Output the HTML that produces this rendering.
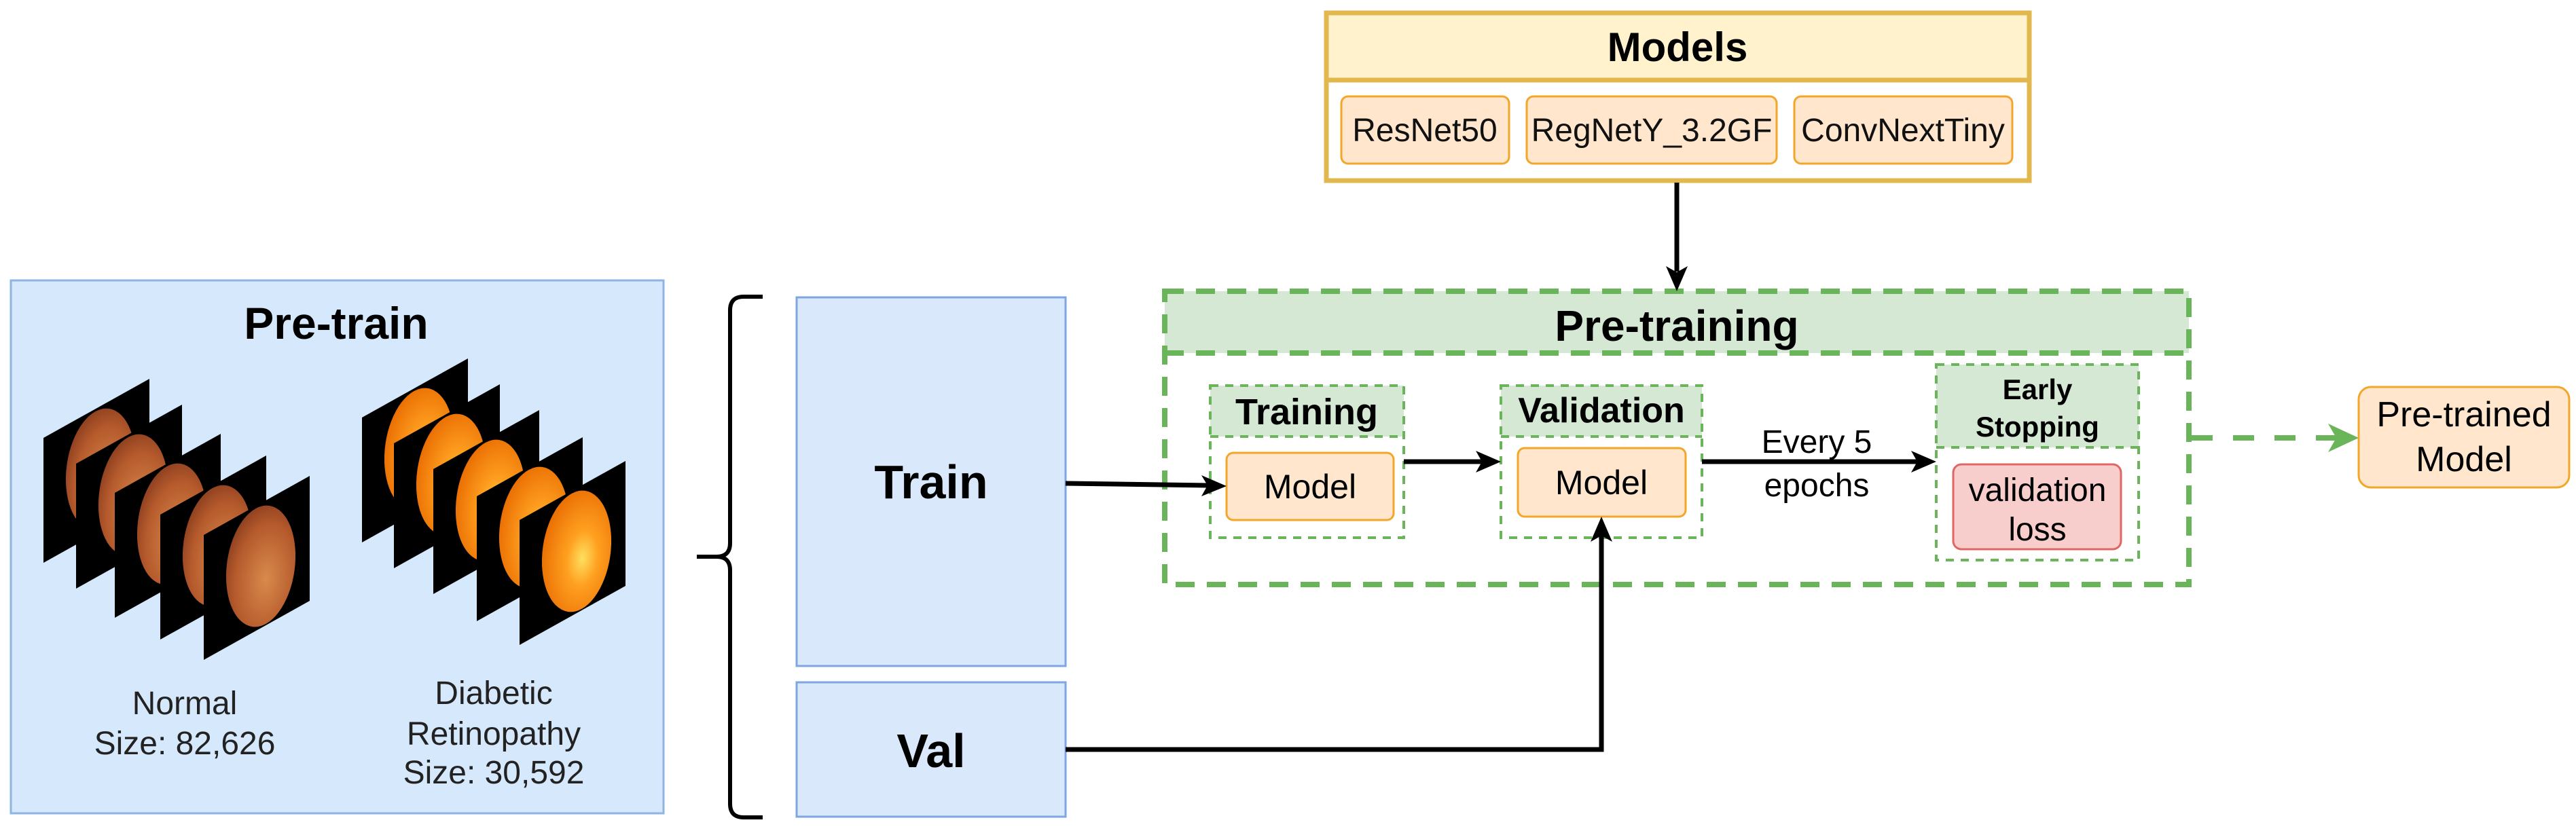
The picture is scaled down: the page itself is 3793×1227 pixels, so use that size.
<!DOCTYPE html>
<html><head><meta charset="utf-8"><style>
html,body{margin:0;padding:0;background:#fff;}
svg{display:block;}
text{font-family:"Liberation Sans",Arial,sans-serif;}
</style></head><body>
<svg width="3793" height="1227" viewBox="0 0 3793 1227" xmlns="http://www.w3.org/2000/svg">
<defs>
<radialGradient id="gn" cx="0.6" cy="0.6" r="0.65">
<stop offset="0" stop-color="#d98a4c"/><stop offset="0.7" stop-color="#b55a2c"/><stop offset="1" stop-color="#8e4020"/>
</radialGradient>
<radialGradient id="gd" cx="0.6" cy="0.55" r="0.65">
<stop offset="0" stop-color="#ffe060"/><stop offset="0.35" stop-color="#ffa020"/><stop offset="1" stop-color="#e86a00"/>
</radialGradient>
<g id="fn"><polygon points="0,0 156,-87 156,97 0,184" fill="#000"/><ellipse cx="84" cy="46" rx="50" ry="90" fill="url(#gn)" transform="rotate(8 84 46)"/></g>
<g id="fd"><polygon points="0,0 156,-87 156,97 0,184" fill="#000"/><ellipse cx="84" cy="46" rx="50" ry="90" fill="url(#gd)" transform="rotate(8 84 46)"/></g>
</defs>

<rect x="16" y="413" width="961" height="785" fill="#d6e8fb" stroke="#8db4e2" stroke-width="3"/>
<text x="495" y="499" font-size="66" font-weight="bold" text-anchor="middle">Pre-train</text>

<use href="#fn" x="64" y="645"/>
<use href="#fn" x="112" y="683"/>
<use href="#fn" x="169" y="726"/>
<use href="#fn" x="236" y="758"/>
<use href="#fn" x="300" y="788"/>
<use href="#fd" x="533" y="615"/>
<use href="#fd" x="580" y="653"/>
<use href="#fd" x="638" y="691"/>
<use href="#fd" x="702" y="731"/>
<use href="#fd" x="765" y="766"/>

<g font-size="48" fill="#222" text-anchor="middle">
<text x="272" y="1052">Normal</text>
<text x="272" y="1111">Size: 82,626</text>
<text x="727" y="1037">Diabetic</text>
<text x="727" y="1097">Retinopathy</text>
<text x="727" y="1154">Size: 30,592</text>
</g>

<path d="M1123,437 L1095,437 Q1075,437 1075,457 L1075,800 Q1075,820 1055,820 L1026,820 L1055,820 Q1075,820 1075,840 L1075,1184 Q1075,1204 1095,1204 L1123,1204" fill="none" stroke="#000" stroke-width="6"/>

<rect x="1173" y="438" width="396" height="543" fill="#dae8fc" stroke="#7ea6e0" stroke-width="3"/>
<text x="1371" y="734" font-size="70" font-weight="bold" text-anchor="middle">Train</text>
<rect x="1173" y="1005" width="396" height="198" fill="#dae8fc" stroke="#7ea6e0" stroke-width="3"/>
<text x="1371" y="1130" font-size="70" font-weight="bold" text-anchor="middle">Val</text>

<rect x="1953" y="19" width="1035" height="247" fill="#fff" stroke="#e2b84e" stroke-width="7"/>
<rect x="1953" y="19" width="1035" height="99" fill="#fff2cc" stroke="#e2b84e" stroke-width="7"/>
<text x="2470" y="90" font-size="60" font-weight="bold" text-anchor="middle">Models</text>
<g fill="#ffe6cc" stroke="#f2a72a" stroke-width="3">
<rect x="1975" y="142" width="247" height="99" rx="10"/>
<rect x="2248" y="142" width="368" height="99" rx="10"/>
<rect x="2642" y="142" width="321" height="99" rx="10"/>
</g>
<g font-size="48" text-anchor="middle" fill="#111">
<text x="2098" y="208">ResNet50</text>
<text x="2432" y="208">RegNetY_3.2GF</text>
<text x="2802" y="208">ConvNextTiny</text>
</g>

<rect x="1715" y="429" width="1508" height="91" fill="#d5e8d4"/>
<rect x="1715" y="429" width="1508" height="432" fill="none" stroke="#6ab55a" stroke-width="8" stroke-dasharray="28,18"/>
<line x1="1715" y1="520" x2="3223" y2="520" stroke="#6ab55a" stroke-width="8" stroke-dasharray="28,18"/>
<text x="2469" y="502" font-size="64" font-weight="bold" text-anchor="middle">Pre-training</text>

<rect x="1782" y="568" width="285" height="75" fill="#d5e8d4"/>
<rect x="1782" y="568" width="285" height="224" fill="none" stroke="#6ab55a" stroke-width="4" stroke-dasharray="12,10"/>
<line x1="1782" y1="643" x2="2067" y2="643" stroke="#6ab55a" stroke-width="4" stroke-dasharray="12,10"/>
<text x="1924" y="625" font-size="54" font-weight="bold" text-anchor="middle">Training</text>
<rect x="1806" y="667" width="246" height="99" rx="10" fill="#ffe6cc" stroke="#f2a72a" stroke-width="3"/>
<text x="1929" y="734" font-size="50" text-anchor="middle">Model</text>

<rect x="2210" y="568" width="296" height="75" fill="#d5e8d4"/>
<rect x="2210" y="568" width="296" height="224" fill="none" stroke="#6ab55a" stroke-width="4" stroke-dasharray="12,10"/>
<line x1="2210" y1="643" x2="2506" y2="643" stroke="#6ab55a" stroke-width="4" stroke-dasharray="12,10"/>
<text x="2358" y="622" font-size="52" font-weight="bold" text-anchor="middle">Validation</text>
<rect x="2235" y="660" width="247" height="101" rx="10" fill="#ffe6cc" stroke="#f2a72a" stroke-width="3"/>
<text x="2358" y="728" font-size="50" text-anchor="middle">Model</text>

<rect x="2851" y="537" width="298" height="122" fill="#d5e8d4"/>
<rect x="2851" y="537" width="298" height="288" fill="none" stroke="#6ab55a" stroke-width="4" stroke-dasharray="12,10"/>
<line x1="2851" y1="659" x2="3149" y2="659" stroke="#6ab55a" stroke-width="4" stroke-dasharray="12,10"/>
<text x="3000" y="588" font-size="42" font-weight="bold" text-anchor="middle">Early</text>
<text x="3000" y="643" font-size="42" font-weight="bold" text-anchor="middle">Stopping</text>
<rect x="2876" y="684" width="247" height="125" rx="12" fill="#f8cecc" stroke="#e06666" stroke-width="3"/>
<text x="3000" y="738" font-size="48" text-anchor="middle">validation</text>
<text x="3000" y="796" font-size="48" text-anchor="middle">loss</text>

<text x="2675" y="667" font-size="48" text-anchor="middle">Every 5</text>
<text x="2675" y="731" font-size="48" text-anchor="middle">epochs</text>

<rect x="3473" y="570" width="310" height="148" rx="18" fill="#ffe6cc" stroke="#f2a72a" stroke-width="3"/>
<text x="3628" y="628" font-size="52" text-anchor="middle">Pre-trained</text>
<text x="3628" y="694" font-size="52" text-anchor="middle">Model</text>

<g stroke="#000" stroke-width="7" fill="none">
<line x1="2469" y1="269" x2="2469" y2="400"/>
<line x1="1569" y1="712" x2="1780" y2="715"/>
<line x1="2067" y1="680" x2="2185" y2="680"/>
<line x1="2506" y1="680" x2="2826" y2="680"/>
<polyline points="1569,1104 2358,1104 2358,788"/>
</g>
<g fill="#000">
<polygon points="2469,429 2453,392 2469,401 2485,392"/>
<polygon points="1806,716 1769,700 1778,715 1769,731"/>
<polygon points="2210,680 2173,664 2182,680 2173,696"/>
<polygon points="2851,680 2814,664 2823,680 2814,696"/>
<polygon points="2358,761 2342,798 2358,789 2374,798"/>
</g>
<line x1="3227" y1="645" x2="3445" y2="645" stroke="#6ab55a" stroke-width="8" stroke-dasharray="31,30"/>
<polygon points="3473,645 3428,624 3440,645 3428,666" fill="#6ab55a"/>
</svg>
</body></html>
